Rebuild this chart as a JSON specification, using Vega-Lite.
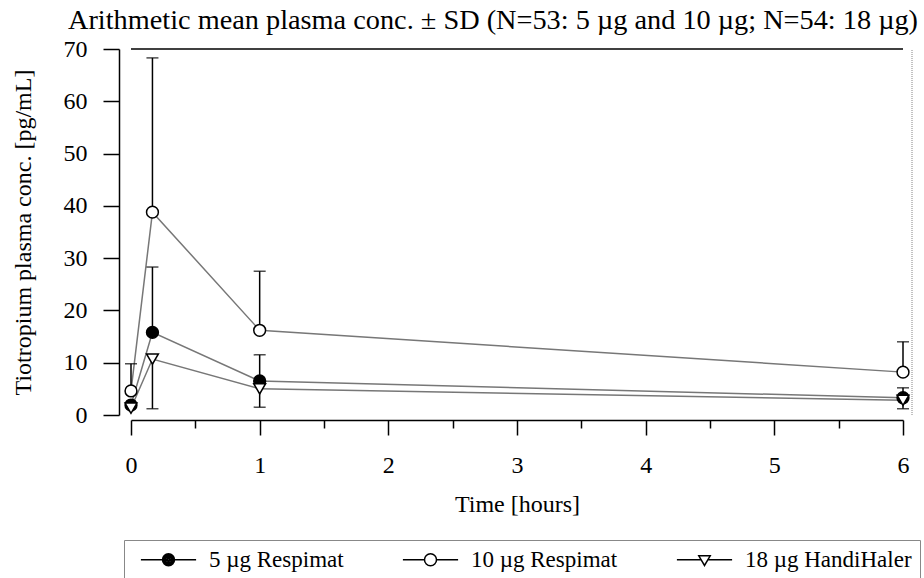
{
  "$schema": "https://vega.github.io/schema/vega-lite/v6.json",
  "width": 772,
  "height": 366,
  "autosize": {"type": "none"},
  "padding": {"left": 131, "top": 49, "right": 21, "bottom": 163},
  "background": "white",
  "title": {
    "text": "Arithmetic mean plasma conc. ± SD (N=53: 5 µg and 10 µg; N=54: 18 µg)",
    "font": "Liberation Serif",
    "fontSize": 28.3,
    "fontWeight": "normal",
    "color": "black",
    "anchor": "start",
    "frame": "group",
    "dx": -63,
    "offset": 2
  },
  "config": {
    "view": {"stroke": null},
    "axis": {
      "grid": false,
      "domainColor": "black",
      "domainWidth": 1.5,
      "tickColor": "black",
      "tickWidth": 1.5,
      "labelFont": "Liberation Serif",
      "labelFontSize": 24,
      "labelColor": "black",
      "titleFont": "Liberation Serif",
      "titleFontSize": 24,
      "titleFontWeight": "normal",
      "titleColor": "black"
    }
  },
  "datasets": {
    "pk": [
      {"series": "5 µg Respimat", "time": 0, "conc": 1.9},
      {"series": "5 µg Respimat", "time": 0.1667, "conc": 15.8},
      {"series": "5 µg Respimat", "time": 1, "conc": 6.5},
      {"series": "5 µg Respimat", "time": 6, "conc": 3.3},
      {"series": "10 µg Respimat", "time": 0, "conc": 4.6},
      {"series": "10 µg Respimat", "time": 0.1667, "conc": 38.8},
      {"series": "10 µg Respimat", "time": 1, "conc": 16.2},
      {"series": "10 µg Respimat", "time": 6, "conc": 8.2},
      {"series": "18 µg HandiHaler", "time": 0, "conc": 1.3},
      {"series": "18 µg HandiHaler", "time": 0.1667, "conc": 10.7},
      {"series": "18 µg HandiHaler", "time": 1, "conc": 5.0},
      {"series": "18 µg HandiHaler", "time": 6, "conc": 2.8}
    ],
    "sd": [
      {"series": "10 µg Respimat", "time": 0, "from": 4.6, "to": 9.8},
      {"series": "10 µg Respimat", "time": 0.1667, "from": 38.8, "to": 68.3},
      {"series": "10 µg Respimat", "time": 1, "from": 16.2, "to": 27.5},
      {"series": "10 µg Respimat", "time": 6, "from": 8.2, "to": 14.0},
      {"series": "5 µg Respimat", "time": 0.1667, "from": 15.8, "to": 28.3},
      {"series": "5 µg Respimat", "time": 1, "from": 6.5, "to": 11.5},
      {"series": "5 µg Respimat", "time": 6, "from": 3.3, "to": 5.2},
      {"series": "18 µg HandiHaler", "time": 0.1667, "from": 10.7, "to": 1.2},
      {"series": "18 µg HandiHaler", "time": 1, "from": 5.0, "to": 1.5},
      {"series": "18 µg HandiHaler", "time": 6, "from": 2.8, "to": 1.2}
    ],
    "frame": [{"x0": 0, "x1": 6, "xr": 6.07, "y0": 0, "y1": 70}]
  },
  "layer": [
    {
      "data": {"name": "pk"},
      "mark": {"type": "line", "color": "#777777", "strokeWidth": 1.5},
      "encoding": {
        "x": {
          "field": "time", "type": "quantitative",
          "scale": {"domain": [0, 6], "nice": false, "zero": false},
          "axis": {
            "title": "Time [hours]",
            "values": [0, 0.5, 1, 1.5, 2, 2.5, 3, 3.5, 4, 4.5, 5, 5.5, 6],
            "labelExpr": "datum.value % 1 === 0 ? format(datum.value, 'd') : ''",
            "tickSize": {"condition": {"test": "datum.value % 1 === 0", "value": 15}, "value": 8},
            "offset": 5,
            "labelPadding": 18,
            "titlePadding": 15,
            "labelFlush": false,
            "labelOverlap": false
          }
        },
        "y": {
          "field": "conc", "type": "quantitative",
          "scale": {"domain": [0, 70], "nice": false},
          "axis": {
            "title": "Tiotropium plasma conc. [pg/mL]",
            "values": [0, 5, 10, 15, 20, 25, 30, 35, 40, 45, 50, 55, 60, 65, 70],
            "labelExpr": "datum.value % 10 === 0 ? datum.label : ''",
            "tickSize": {"condition": {"test": "datum.value % 10 === 0", "value": 16}, "value": 8},
            "offset": 12,
            "labelPadding": 16,
            "titlePadding": 28,
            "labelFlush": false,
            "labelOverlap": false
          }
        },
        "detail": {"field": "series"}
      }
    },
    {
      "data": {"name": "frame"},
      "mark": {"type": "rule", "color": "black", "strokeWidth": 1.5},
      "encoding": {
        "x": {"field": "x0", "type": "quantitative"},
        "x2": {"field": "x1"},
        "y": {"field": "y1", "type": "quantitative"}
      }
    },
    {
      "data": {"name": "frame"},
      "mark": {"type": "rule", "color": "#999999", "strokeWidth": 1.2, "strokeDash": [1, 1]},
      "encoding": {
        "x": {"field": "xr", "type": "quantitative"},
        "y": {"field": "y0", "type": "quantitative"},
        "y2": {"field": "y1"}
      }
    },
    {
      "data": {"name": "sd"},
      "mark": {"type": "rule", "color": "black", "strokeWidth": 1.5},
      "encoding": {
        "x": {"field": "time", "type": "quantitative"},
        "y": {"field": "from", "type": "quantitative"},
        "y2": {"field": "to"}
      }
    },
    {
      "data": {"name": "sd"},
      "mark": {"type": "tick", "orient": "horizontal", "color": "black", "size": 12, "thickness": 1.5},
      "encoding": {
        "x": {"field": "time", "type": "quantitative"},
        "y": {"field": "to", "type": "quantitative"}
      }
    },
    {
      "data": {"name": "pk"},
      "mark": {"type": "point", "filled": true, "size": 140, "stroke": "black", "strokeWidth": 1.5, "opacity": 1},
      "encoding": {
        "x": {"field": "time", "type": "quantitative"},
        "y": {"field": "conc", "type": "quantitative"},
        "shape": {
          "field": "series",
          "scale": {"domain": ["5 µg Respimat", "10 µg Respimat", "18 µg HandiHaler"], "range": ["circle", "circle", "triangle-down"]},
          "legend": null
        },
        "fill": {
          "field": "series",
          "scale": {"domain": ["5 µg Respimat", "10 µg Respimat", "18 µg HandiHaler"], "range": ["black", "white", "white"]},
          "legend": null
        }
      }
    },
    {
      "data": {"name": "pk"},
      "transform": [{"filter": "false"}],
      "mark": {"type": "point", "filled": false, "color": "black", "size": 144, "strokeWidth": 1.5, "opacity": 1},
      "encoding": {
        "x": {"field": "time", "type": "quantitative"},
        "y": {"field": "conc", "type": "quantitative"},
        "shape": {
          "field": "series",
          "scale": {
            "domain": ["5 µg Respimat", "10 µg Respimat", "18 µg HandiHaler"],
            "range": [
              "M-4.6,0L-1,0M1,0L4.6,0M1,0A1,1,0,1,1,-1,0A1,1,0,1,1,1,0M0.75,0A0.75,0.75,0,1,1,-0.75,0A0.75,0.75,0,1,1,0.75,0M0.5,0A0.5,0.5,0,1,1,-0.5,0A0.5,0.5,0,1,1,0.5,0M0.25,0A0.25,0.25,0,1,1,-0.25,0A0.25,0.25,0,1,1,0.25,0M0.08,0A0.08,0.08,0,1,1,-0.08,0A0.08,0.08,0,1,1,0.08,0",
              "M-4.6,0L-1,0M1,0L4.6,0M1,0A1,1,0,1,1,-1,0A1,1,0,1,1,1,0",
              "M-4.6,0L-0.55,0M0.55,0L4.6,0M-0.95,-0.65L0.95,-0.65L0,0.95Z"
            ]
          },
          "legend": {
            "title": null,
            "orient": "none",
            "legendX": -7,
            "legendY": 491,
            "direction": "horizontal",
            "labelFont": "Liberation Serif",
            "labelFontSize": 23,
            "labelColor": "black",
            "labelLimit": 300,
            "symbolSize": 144,
            "symbolOffset": 25,
            "labelOffset": 29,
            "columnPadding": 50,
            "padding": 8,
            "strokeColor": "#888888",
            "symbolStrokeColor": "black",
            "symbolStrokeWidth": 1.5,
            "symbolOpacity": 1
          }
        }
      }
    }
  ],
  "resolve": {"scale": {"shape": "independent"}}
}
